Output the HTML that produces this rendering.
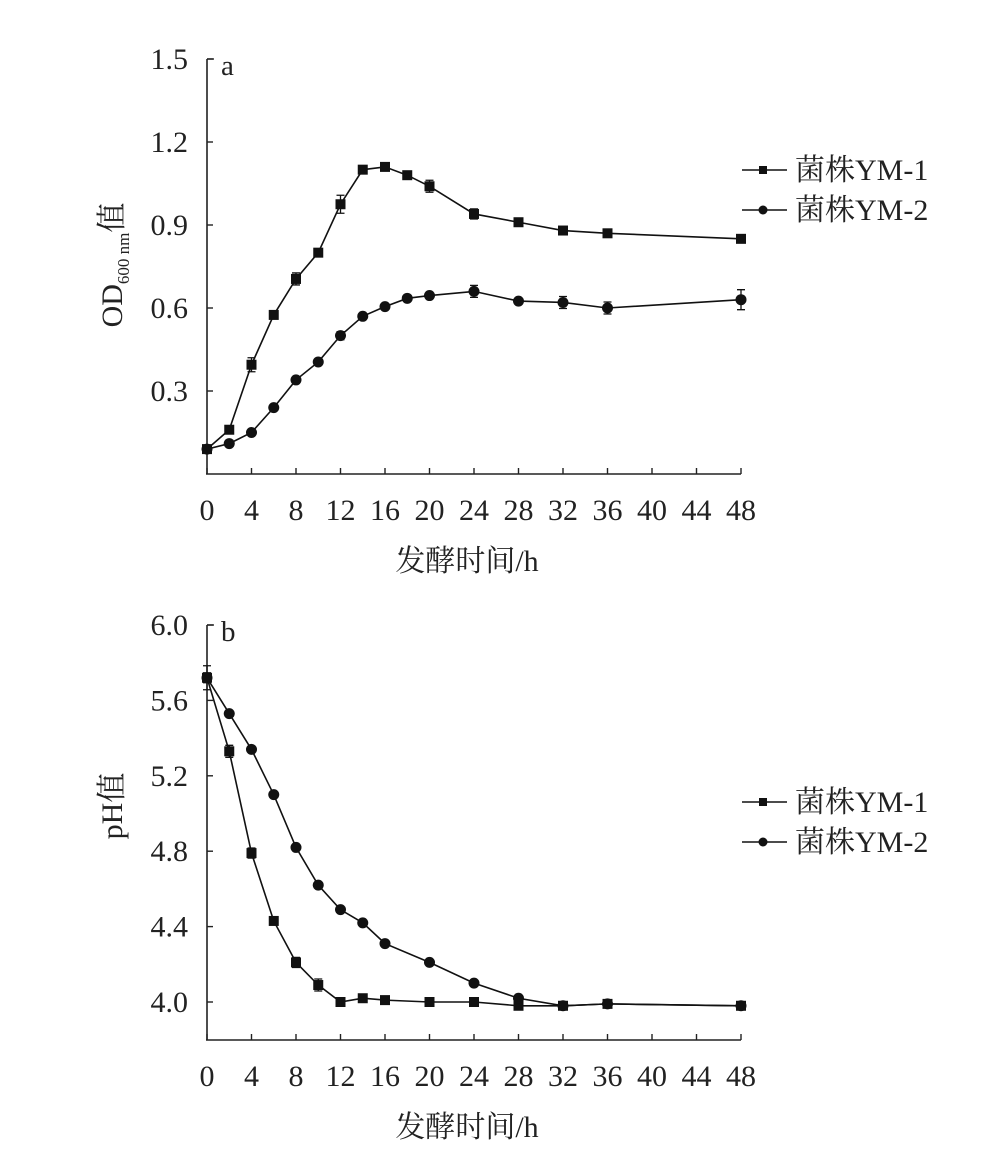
<!DOCTYPE html>
<html><head><meta charset="utf-8"><style>
html,body{margin:0;padding:0;background:#fff;}
svg text{font-family:"Liberation Serif","Noto Serif CJK SC",serif;fill:#222;}
</style></head><body>
<svg id="s" width="983" height="1167" xmlns="http://www.w3.org/2000/svg"></svg>
<script>
const s=document.getElementById('s');let h='';
const X=t=>207+t*534/48;
function chart(o){
  const Y=v=>o.y0+(v-o.v0)*(o.y1-o.y0)/(o.v1-o.v0);
  h+=`<line x1="207" y1="${o.top}" x2="207" y2="${o.bot}" stroke="#222" stroke-width="1.6"/>`;
  h+=`<line x1="206" y1="${o.bot}" x2="741" y2="${o.bot}" stroke="#222" stroke-width="1.6"/>`;
  h+=`<line x1="207" y1="${o.top}" x2="214" y2="${o.top}" stroke="#222" stroke-width="1.4"/>`;
  o.ticks.forEach(v=>{const y=Y(v);h+=`<line x1="207" y1="${y}" x2="213" y2="${y}" stroke="#222" stroke-width="1.4"/><text x="188" y="${y+10}" font-size="30" text-anchor="end">${v.toFixed(1)}</text>`;});
  for(let t=0;t<=48;t+=4){h+=`<line x1="${X(t)}" y1="${o.bot}" x2="${X(t)}" y2="${o.bot-6}" stroke="#222" stroke-width="1.4"/><text x="${X(t)}" y="${o.bot+46}" font-size="30" text-anchor="middle">${t}</text>`;}
  h+=`<text x="221" y="${o.top+16}" font-size="29">${o.lab}</text>`;
  h+=`<text x="467" y="${o.bot+97}" font-size="30" text-anchor="middle">发酵时间/h</text>`;
  h+=o.ylab;
  o.series.forEach((d,i)=>{
    const pts=d.map(p=>[X(p[0]),Y(p[1]),p[2]||0]);
    h+=`<polyline points="${pts.map(p=>p[0]+','+p[1]).join(' ')}" fill="none" stroke="#111" stroke-width="1.6"/>`;
    pts.forEach(p=>{
      if(p[2]){const e=p[2];h+=`<path d="M${p[0]},${p[1]-e}V${p[1]+e}M${p[0]-4},${p[1]-e}h8M${p[0]-4},${p[1]+e}h8" stroke="#111" stroke-width="1.3"/>`;}
      h+= i==0?`<rect x="${p[0]-5}" y="${p[1]-5}" width="10" height="10" fill="#111"/>`:`<circle cx="${p[0]}" cy="${p[1]}" r="5.5" fill="#111"/>`;
    });
  });
  const ly=o.leg;
  [0,1].forEach(i=>{const y=ly+i*40;
    h+=`<line x1="742" y1="${y}" x2="787" y2="${y}" stroke="#111" stroke-width="1.6"/>`;
    h+= i==0?`<rect x="759" y="${y-4}" width="8" height="8" fill="#111"/>`:`<circle cx="763" cy="${y}" r="4.5" fill="#111"/>`;
    h+=`<text x="795" y="${y+10}" font-size="30">菌株YM-${i+1}</text>`;});
}
chart({top:59,bot:474,y0:474,v0:0,y1:59,v1:1.5,ticks:[1.5,1.2,0.9,0.6,0.3],lab:'a',leg:170,
 ylab:`<text transform="translate(122,265) rotate(-90)" font-size="30" text-anchor="middle">OD<tspan font-size="17" dy="7">600 nm</tspan><tspan dy="-7">值</tspan></text>`,
 series:[
 [[0,0.09],[2,0.16],[4,0.395,7],[6,0.575],[8,0.705,6],[10,0.80],[12,0.975,9],[14,1.10],[16,1.11],[18,1.08],[20,1.04,6],[24,0.94,5],[28,0.91],[32,0.88],[36,0.87],[48,0.85]],
 [[0,0.09],[2,0.11],[4,0.15],[6,0.24],[8,0.34],[10,0.405],[12,0.50,4],[14,0.57],[16,0.605],[18,0.635],[20,0.645],[24,0.66,6],[28,0.625],[32,0.62,6],[36,0.60,6],[48,0.63,10]]]});
chart({top:625,bot:1040,y0:1002,v0:4.0,y1:625,v1:6.0,ticks:[6.0,5.6,5.2,4.8,4.4,4.0],lab:'b',leg:802,
 ylab:`<text transform="translate(122,806) rotate(-90)" font-size="30" text-anchor="middle">pH值</text>`,
 series:[
 [[0,5.72,12],[2,5.33,6],[4,4.79,5],[6,4.43],[8,4.21,5],[10,4.09,6],[12,4.00],[14,4.02],[16,4.01],[20,4.00],[24,4.00],[28,3.98],[32,3.98],[36,3.99],[48,3.98]],
 [[0,5.72,5],[2,5.53],[4,5.34],[6,5.10],[8,4.82],[10,4.62],[12,4.49],[14,4.42],[16,4.31],[20,4.21],[24,4.10],[28,4.02],[32,3.98],[36,3.99],[48,3.98]]]});
s.innerHTML=h;
</script>
</body></html>
